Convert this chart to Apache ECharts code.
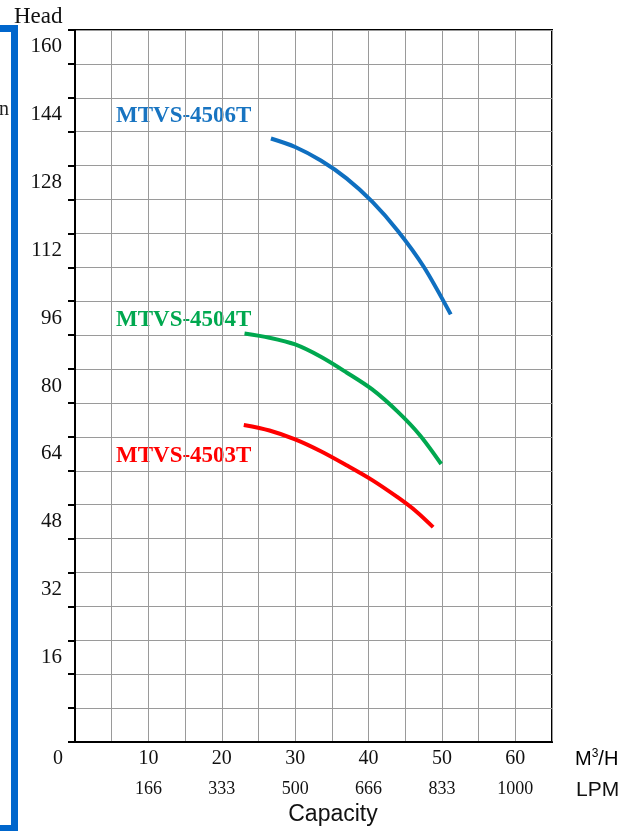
<!DOCTYPE html>
<html>
<head>
<meta charset="utf-8">
<script src="https://cdn.jsdelivr.net/npm/echarts@6/dist/echarts.min.js"></script>
<style>
html,body{margin:0;padding:0;background:#fff;}
#c{width:635px;height:831px;}
</style>
</head>
<body>
<div id="c"></div>
<script>
// ---- data (capacity m3/h, head m) ----
const seriesNames = ['MTVS-4506T', 'MTVS-4504T', 'MTVS-4503T'];
const q4506 = [26.7, 30.0, 33.5, 37.0, 40.5, 44.0, 47.5, 51.2];
const h4506 = [138.4, 136.4, 133.2, 129.0, 123.5, 116.6, 108.2, 96.9];
const q4504 = [23.1, 26.5, 30.0, 33.5, 37.0, 40.5, 44.0, 47.0, 49.9];
const h4504 = [92.4, 91.4, 89.8, 86.9, 83.2, 79.2, 73.9, 68.4, 61.6];
const q4503 = [23.0, 26.5, 30.0, 33.5, 37.0, 40.5, 44.0, 46.5, 48.8];
const h4503 = [70.8, 69.5, 67.4, 64.6, 61.3, 57.8, 53.7, 50.4, 46.7];
// tick labels
const capTicks = [10, 20, 30, 40, 50, 60];
const lpmTicks = ['166', '333', '500', '666', '833', '1000'];
const headTicks = [16, 32, 48, 64, 80, 96, 112, 128, 144, 160];

const colors = ['#0f6fc0', '#00a84f', '#ff0000'];
const serif = '"Liberation Serif", "DejaVu Serif", serif';
const sans = '"Liberation Sans", Arial, sans-serif';

function pairs(q, h) { return q.map((v, i) => [v, h[i]]); }

const lineCommon = { type: 'line', smooth: 0.3, showSymbol: false, yAxisIndex: 0 };

const chart = echarts.init(document.getElementById('c'));
chart.setOption({
  animation: false,
  backgroundColor: '#fff',
  grid: { left: 75, right: 83, top: 30, bottom: 89, show: true, borderColor: '#000', borderWidth: 2, containLabel: false },
  xAxis: {
    type: 'value', min: 0, max: 65, interval: 5,
    axisLine: { show: true, onZero: false, lineStyle: { color: '#000', width: 2 } },
    axisTick: { show: false },
    splitLine: { show: true, lineStyle: { color: '#9a9a9a', width: 1 } },
    axisLabel: {
      margin: 1,
      color: '#111',
      fontFamily: serif,
      fontSize: 19,
      lineHeight: 31,
      formatter: function (v) {
        if (v === 0) return '{z|0}';
        const i = capTicks.indexOf(v);
        if (i < 0) return '';
        return '{a|' + v + '}\n{b|' + lpmTicks[i] + '}';
      },
      rich: {
        z: { fontFamily: serif, fontSize: 20, color: '#111', lineHeight: 31, padding: [0, 34, 0, 0] },
        a: { fontFamily: serif, fontSize: 20, color: '#111', lineHeight: 31 },
        b: { fontFamily: serif, fontSize: 18, color: '#111', lineHeight: 31 }
      }
    }
  },
  yAxis: [
    {
      type: 'value', min: -4, max: 164, interval: 4,
      axisLine: { show: false }, axisTick: { show: false }, splitLine: { show: false },
      axisLabel: {
        margin: 13, color: '#111', fontFamily: serif, fontSize: 21,
        formatter: function (v) { return headTicks.indexOf(v) >= 0 ? String(v) : ''; }
      }
    },
    {
      type: 'value', min: 0, max: 168, interval: 8, position: 'left',
      axisLine: { show: true, lineStyle: { color: '#000', width: 2 } },
      axisTick: { show: true, inside: false, length: 7, lineStyle: { color: '#000', width: 2 } },
      splitLine: { show: true, lineStyle: { color: '#9a9a9a', width: 1 } },
      axisLabel: { show: false }
    }
  ],
  series: [
    Object.assign({ name: seriesNames[0], data: pairs(q4506, h4506), lineStyle: { color: colors[0], width: 4 } }, lineCommon),
    Object.assign({ name: seriesNames[1], data: pairs(q4504, h4504), lineStyle: { color: colors[1], width: 4 } }, lineCommon),
    Object.assign({ name: seriesNames[2], data: pairs(q4503, h4503), lineStyle: { color: colors[2], width: 4 } }, lineCommon)
  ],
  graphic: [
    { type: 'rect', shape: { x: -20, y: 28.5, width: 34.5, height: 800 }, style: { fill: 'none', stroke: '#0066cc', lineWidth: 7 }, silent: true },
    { type: 'text', x: -1, y: 110, style: { text: 'n', font: '20px ' + serif, fill: '#222', verticalAlign: 'middle' } },
    { type: 'text', x: 14, y: 17, style: { text: 'Head', font: '23px ' + serif, fill: '#111', verticalAlign: 'middle' } },
    { type: 'text', x: 116, y: 116, style: { text: seriesNames[0], font: 'bold 23px ' + serif, fill: '#1874c1', verticalAlign: 'middle' } },
    { type: 'text', x: 116, y: 320, style: { text: seriesNames[1], font: 'bold 23px ' + serif, fill: '#00a84f', verticalAlign: 'middle' } },
    { type: 'text', x: 116, y: 456, style: { text: seriesNames[2], font: 'bold 23px ' + serif, fill: '#ff0000', verticalAlign: 'middle' } },
    { type: 'text', x: 575, y: 759, style: { text: '{m|M}{s|3}{m|/H}', verticalAlign: 'middle', rich: { m: { fontFamily: sans, fontSize: 20, color: '#111' }, s: { fontFamily: sans, fontSize: 12, verticalAlign: 'top', padding: [0, 0, 10, 0], color: '#111' } } } },
    { type: 'text', x: 576, y: 790, style: { text: 'LPM', font: '21px ' + sans, fill: '#111', verticalAlign: 'middle' } },
    { type: 'text', x: 333, y: 815, style: { text: 'Capacity', font: '23px ' + sans, fill: '#111', align: 'center', verticalAlign: 'middle' } }
  ]
});
</script>
</body>
</html>
